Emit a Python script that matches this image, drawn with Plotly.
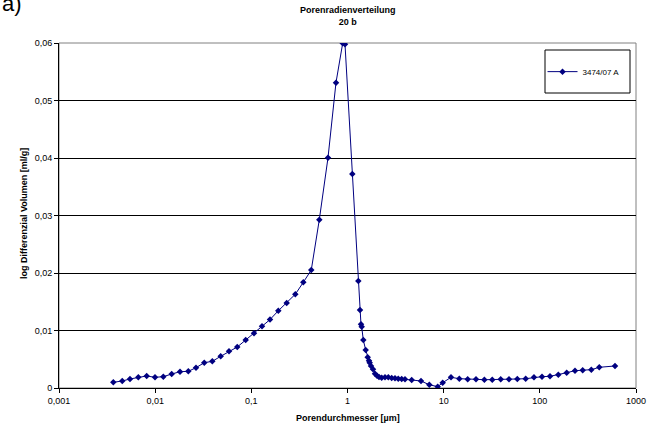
import plotly.graph_objects as go

title_lines = ["Porenradienverteilung", "20 b"]
series_name = "3474/07 A"
x_title = "Porendurchmesser [µm]"
y_title = "log Differenzial Volumen [ml/g]"

# pore diameter [µm]
diameter = [
    0.00367, 0.00455, 0.00547, 0.00668, 0.00816, 0.00996, 0.01215, 0.01485, 0.01812, 0.0221,
    0.0266, 0.0324, 0.0393, 0.0480, 0.0586, 0.0714, 0.0874, 0.1066, 0.1291, 0.1563,
    0.1907, 0.2332, 0.2865, 0.347, 0.420,
    0.509, 0.627, 0.759, 0.891, 0.942, 1.122,
    1.295, 1.349, 1.381, 1.404, 1.46, 1.546, 1.622, 1.673, 1.701, 1.755,
    1.842, 1.931, 2.026, 2.125, 2.268, 2.454, 2.656, 2.88, 3.12, 3.37,
    3.66, 3.96, 4.65, 5.81,
    7.09, 8.67, 9.77, 11.92, 14.54, 17.77, 21.7, 26.5, 32.0, 39.2, 47.8, 58.3,
    71.3, 86.9, 105.3, 127.5, 155.6, 190.2, 232.1, 279, 343, 415, 605,
]
# log differential volume [ml/g]
volume = [
    0.00099, 0.00122, 0.00157, 0.00186, 0.00209, 0.00186, 0.00197, 0.00243, 0.00283, 0.0029,
    0.00353, 0.0044, 0.00464, 0.00551, 0.00637, 0.00713, 0.00835, 0.00951, 0.01073, 0.0119,
    0.01343, 0.01478, 0.0163, 0.01838, 0.02052,
    0.02927, 0.04005, 0.0531, 0.05995, 0.05977, 0.03722,
    0.01861, 0.01357, 0.01107, 0.01067, 0.00835, 0.00661, 0.00533, 0.00475, 0.0044, 0.00383,
    0.00325, 0.00249, 0.00214, 0.00191, 0.00179, 0.00186, 0.00186, 0.00174, 0.00169, 0.00162,
    0.00157, 0.00151, 0.00139, 0.00122,
    0.00057, 0.00023, 0.00092, 0.00186, 0.00162, 0.00151, 0.00151, 0.00144, 0.00144, 0.00151, 0.00151, 0.00157,
    0.00162, 0.00186, 0.00197, 0.00203, 0.00231, 0.00266, 0.00301, 0.00308, 0.00319, 0.0036, 0.00383,
]

x_tickvals = [0.001, 0.01, 0.1, 1, 10, 100, 1000]
x_ticktext = ["0,001", "0,01", "0,1", "1", "10", "100", "1000"]
y_tickvals = [0, 0.01, 0.02, 0.03, 0.04, 0.05, 0.06]
y_ticktext = ["0", "0,01", "0,02", "0,03", "0,04", "0,05", "0,06"]

FONT = "Liberation Sans, Arial, sans-serif"
NAVY = "#000080"

fig = go.Figure()
fig.add_trace(go.Scatter(
    x=diameter, y=volume, mode="lines+markers", name=series_name,
    line=dict(color=NAVY, width=1),
    marker=dict(symbol="diamond", size=5, color=NAVY),
))

fig.update_layout(
    width=665, height=429,
    margin=dict(l=59, r=29, t=43, b=41),
    paper_bgcolor="white", plot_bgcolor="white",
    font=dict(family=FONT, size=9, color="black"),
    showlegend=True,
    legend=dict(
        x=0.838, y=0.917, xanchor="left", yanchor="middle",
        bgcolor="rgba(0,0,0,0)", borderwidth=0,
        font=dict(size=8, family=FONT, color="black"),
    ),
    xaxis=dict(
        type="log", range=[-3, 3], automargin=False,
        tickvals=x_tickvals, ticktext=x_ticktext,
        ticks="outside", ticklen=4, tickcolor="black",
        showline=True, linecolor="black", linewidth=1,
        showgrid=False, zeroline=False,
        tickfont=dict(size=9),
    ),
    yaxis=dict(
        range=[0, 0.06], automargin=False,
        tickvals=y_tickvals, ticktext=y_ticktext,
        ticks="outside", ticklen=4, tickcolor="black",
        showline=True, linecolor="black", linewidth=1,
        showgrid=True, gridcolor="black", gridwidth=1,
        zeroline=False,
        tickfont=dict(size=9),
    ),
    shapes=[
        dict(type="rect", xref="paper", yref="paper", x0=0, x1=1, y0=0, y1=1,
             line=dict(color="#808080", width=1), layer="below"),
        dict(type="rect", xref="paper", yref="paper",
             x0=(545 - 59) / 577, x1=(630 - 59) / 577,
             y0=(388 - 93) / 345, y1=(388 - 50) / 345,
             line=dict(color="black", width=1), fillcolor="white", layer="above"),
    ],
    annotations=[
        dict(text="<b>" + title_lines[0] + "<br>" + title_lines[1] + "</b>",
             xref="paper", yref="paper", x=0.5, y=(388 - 16) / 345,
             xanchor="center", yanchor="middle", showarrow=False,
             font=dict(size=9, family=FONT, color="black")),
        dict(text="<b>" + x_title + "</b>", xref="paper", yref="paper",
             x=0.5, y=(388 - 418) / 345, xanchor="center", yanchor="middle",
             showarrow=False, font=dict(size=9, family=FONT, color="black")),
        dict(text="<b>" + y_title + "</b>", xref="paper", yref="paper",
             x=(24 - 59) / 577, y=(388 - 214) / 345, xanchor="center", yanchor="middle",
             textangle=-90, showarrow=False, font=dict(size=9, family=FONT, color="black")),
        dict(text="a)", xref="paper", yref="paper",
             x=-59 / 577, y=(388 - 4) / 345, xanchor="left", yanchor="middle",
             showarrow=False, font=dict(size=22, family=FONT, color="black")),
    ],
)

fig.write_html("out.html")
